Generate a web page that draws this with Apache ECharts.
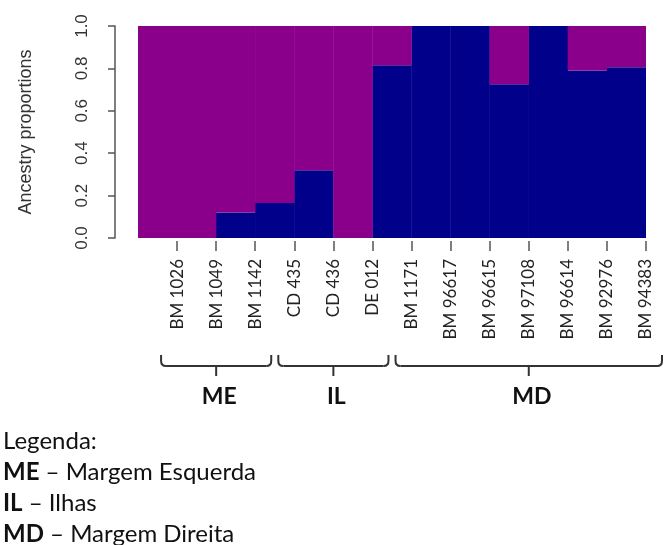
<!DOCTYPE html>
<html>
<head>
<meta charset="utf-8">
<script src="https://cdn.jsdelivr.net/npm/echarts@6/dist/echarts.min.js"></script>
<style>
html, body { margin: 0; padding: 0; background: #fff; }
#main { width: 668px; height: 545px; }
</style>
</head>
<body>
<div id="main"></div>
<script>
// amostras (rótulos do eixo x)
var samples = ['BM 1026', 'BM 1049', 'BM 1142', 'CD 435', 'CD 436', 'DE 012',
    'BM 1171', 'BM 96617', 'BM 96615', 'BM 97108', 'BM 96614', 'BM 92976', 'BM 94383'];
// proporções de ancestralidade, K = 2
var clusterBlue   = [0, 0, 0.12, 0.165, 0.32, 0, 0.815, 1, 1, 0.725, 1, 0.79, 0.805];
var clusterPurple = [1, 1, 0.88, 0.835, 0.68, 1, 0.185, 0, 0, 0.275, 0, 0.21, 0.195];
// grupos: primeiro e último índice da amostra
var groupNames = ['ME', 'IL', 'MD'];
var groupFirst = [0, 3, 6];
var groupLast  = [2, 5, 12];
var legendTitle = 'Legenda:';
var legendCodes = ['ME', 'IL', 'MD'];
var legendTexts = ['Margem Esquerda', 'Ilhas', 'Margem Direita'];

var myChart = echarts.init(document.getElementById('main'), null, { renderer: 'canvas' });

var option = {
    animation: false,
    backgroundColor: '#fff',
    grid: { left: 138, right: 22, top: 26, bottom: 307 },
    xAxis: [
        {
            type: 'category',
            data: samples,
            show: false
        },
        {
            // os rótulos ficam nas divisões, como no gráfico original
            type: 'category',
            data: [''].concat(samples),
            boundaryGap: false,
            position: 'bottom',
            offset: 3,
            axisLine: { show: false },
            axisTick: {
                show: true,
                length: 10,
                interval: function (i) { return i > 0; },
                lineStyle: { color: '#555', width: 1.5 }
            },
            axisLabel: {
                interval: 0,
                rotate: 90,
                margin: 18,
                fontFamily: 'Lato',
                fontSize: 17,
                color: '#222'
            }
        }
    ],
    yAxis: {
        type: 'value',
        min: 0,
        max: 1,
        interval: 0.2,
        offset: 23,
        name: 'Ancestry proportions',
        nameLocation: 'middle',
        nameRotate: 90,
        nameGap: 80,
        nameTextStyle: { fontFamily: 'Liberation Sans', fontSize: 18, color: '#333' },
        axisLine: { show: true, lineStyle: { color: '#555', width: 1.5 } },
        axisTick: { show: true, length: 7, lineStyle: { color: '#555', width: 1.5 } },
        splitLine: { show: false },
        axisLabel: {
            rotate: 90,
            margin: 24,
            fontFamily: 'Liberation Sans',
            fontSize: 17,
            color: '#333',
            formatter: function (v) { return v.toFixed(1); }
        }
    },
    series: [
        {
            name: 'K1',
            type: 'bar',
            stack: 'k',
            xAxisIndex: 0,
            barWidth: '101%',
            itemStyle: { color: '#00008B' },
            data: clusterBlue
        },
        {
            name: 'K2',
            type: 'bar',
            stack: 'k',
            xAxisIndex: 0,
            barWidth: '101%',
            itemStyle: { color: '#8B008B' },
            data: clusterPurple
        }
    ]
};

myChart.setOption(option);

// chaves dos grupos e legenda
function drawNotes() {
    var els = [];
    var y0 = 355, y1 = 366, y2 = 376, r = 5;
    var st = { stroke: '#333', lineWidth: 2, fill: null };
    for (var g = 0; g < groupNames.length; g++) {
        var a = myChart.convertToPixel({ xAxisIndex: 1 }, samples[groupFirst[g]]) - 16;
        var b = myChart.convertToPixel({ xAxisIndex: 1 }, samples[groupLast[g]]) + 16;
        var c = (a + b) / 2;
        els.push({ type: 'line', shape: { x1: a, y1: y0, x2: a, y2: y1 - r }, style: st });
        els.push({ type: 'bezierCurve', shape: { x1: a, y1: y1 - r, cpx1: a, cpy1: y1, x2: a + r, y2: y1 }, style: st });
        els.push({ type: 'line', shape: { x1: a + r, y1: y1, x2: b - r, y2: y1 }, style: st });
        els.push({ type: 'bezierCurve', shape: { x1: b - r, y1: y1, cpx1: b, cpy1: y1, x2: b, y2: y1 - r }, style: st });
        els.push({ type: 'line', shape: { x1: b, y1: y1 - r, x2: b, y2: y0 }, style: st });
        els.push({ type: 'line', shape: { x1: c, y1: y1, x2: c, y2: y2 }, style: st });
        els.push({
            type: 'text',
            x: c + 3, y: 397,
            style: {
                text: groupNames[g], fill: '#111',
                font: 'bold 23px Lato',
                align: 'center', verticalAlign: 'middle'
            }
        });
    }
    els.push({
        type: 'text', x: 3, y: 441,
        style: { text: legendTitle, fill: '#111', font: '24px Lato', verticalAlign: 'middle' }
    });
    for (var i = 0; i < legendCodes.length; i++) {
        els.push({
            type: 'text', x: 3, y: 472 + i * 31,
            style: {
                text: '{b|' + legendCodes[i] + '} – ' + legendTexts[i],
                fill: '#111', font: '24px Lato', verticalAlign: 'middle',
                rich: { b: { fontWeight: 'bold', fontFamily: 'Lato', fontSize: 24, fill: '#111' } }
            }
        });
    }
    myChart.setOption({ graphic: els });
}
drawNotes();
</script>
</body>
</html>
